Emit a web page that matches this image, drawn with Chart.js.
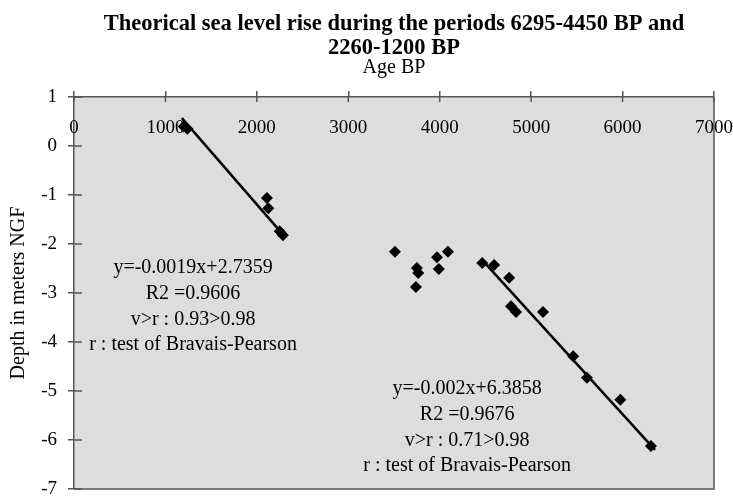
<!DOCTYPE html>
<html>
<head>
<meta charset="utf-8">
<script src="https://cdn.jsdelivr.net/npm/chart.js@4.4.1/dist/chart.umd.min.js"></script>
<style>
  html, body { margin: 0; padding: 0; background: #fff; }
</style>
</head>
<body>
<canvas id="seaLevel" width="733" height="496"></canvas>
<script>
// points (age BP, depth in m NGF)
var recentAge = [1200, 1240, 2110, 2125, 2250, 2285];
var recentDepth = [0.40, 0.35, -1.06, -1.27, -1.74, -1.82];

var middleAge = [3510, 3750, 3765, 3740, 3970, 3990, 4090];
var middleDepth = [-2.16, -2.49, -2.59, -2.88, -2.27, -2.51, -2.16];

var olderAge = [4465, 4595, 4760, 4780, 4835, 5130, 5460, 5610, 5975, 6310];
var olderDepth = [-2.39, -2.43, -2.69, -3.27, -3.39, -3.39, -4.29, -4.73, -5.18, -6.12];

// trend lines as drawn on the figure
var trendRecentAge = [1180, 2310];
var trendRecentDepth = [0.57, -1.86];
var trendOlderAge = [4480, 6355];
var trendOlderDepth = [-2.36, -6.20];

var xTicks = [0, 1000, 2000, 3000, 4000, 5000, 6000, 7000];
var yTicks = [1, 0, -1, -2, -3, -4, -5, -6, -7];

var recentFitText = ['y=-0.0019x+2.7359', 'R2 =0.9606', 'v>r : 0.93>0.98', 'r : test of Bravais-Pearson'];
var olderFitText = ['y=-0.002x+6.3858', 'R2 =0.9676', 'v>r : 0.71>0.98', 'r : test of Bravais-Pearson'];

var serif = "'Liberation Serif', 'Times New Roman', serif";

function toPoints(xs, ys) {
    return xs.map(function (x, i) { return { x: x, y: ys[i] }; });
}

// grey plot area, frame, inner half of the tick marks, x labels and the fit notes
var plotDecor = {
    id: 'plotDecor',
    beforeDraw: function (chart) {
        var a = chart.chartArea, ctx = chart.ctx;
        ctx.save();
        ctx.fillStyle = '#dddddd';
        ctx.fillRect(a.left, a.top, a.right - a.left, a.bottom - a.top);
        ctx.restore();
    },
    beforeDatasetsDraw: function (chart) {
        // x tick labels sit inside the plot, under the axis line
        var a = chart.chartArea, ctx = chart.ctx, xs = chart.scales.x;
        ctx.save();
        ctx.fillStyle = '#000';
        ctx.font = '19px ' + serif;
        ctx.textAlign = 'center';
        ctx.textBaseline = 'middle';
        xTicks.forEach(function (v) {
            ctx.fillText(String(v), xs.getPixelForValue(v), a.top + 31);
        });
        ctx.restore();
    },
    afterDraw: function (chart) {
        var a = chart.chartArea, ctx = chart.ctx;
        var xs = chart.scales.x, ys = chart.scales.y;
        ctx.save();
        ctx.strokeStyle = '#555';
        ctx.lineWidth = 1.5;
        ctx.beginPath();
        ctx.moveTo(a.right, a.top);
        ctx.lineTo(a.right, a.bottom);
        ctx.lineTo(a.left, a.bottom);
        ctx.stroke();
        ctx.beginPath();
        xTicks.forEach(function (v) {
            var px = xs.getPixelForValue(v);
            ctx.moveTo(px, a.top);
            ctx.lineTo(px, a.top + 5);
        });
        yTicks.forEach(function (v) {
            var py = ys.getPixelForValue(v);
            ctx.moveTo(a.left, py);
            ctx.lineTo(a.left + 8, py);
        });
        ctx.stroke();

        ctx.fillStyle = '#000';
        ctx.font = '20px ' + serif;
        ctx.textAlign = 'center';
        ctx.textBaseline = 'middle';
        var notes = chart.options.plugins.plotDecor.notes;
        notes.forEach(function (n) {
            var cx = xs.getPixelForValue(n.x);
            var cy = ys.getPixelForValue(n.y);
            n.lines.forEach(function (t, i) {
                ctx.fillText(t, cx, cy + i * 25.7);
            });
        });
        ctx.restore();
    }
};

var ctx = document.getElementById('seaLevel').getContext('2d');

var chart = new Chart(ctx, {
    type: 'scatter',
    data: {
        datasets: [
            {
                label: '2260-1200 BP',
                data: toPoints(recentAge, recentDepth),
                pointStyle: 'rectRot',
                pointRadius: 6,
                backgroundColor: '#000',
                borderColor: '#000',
                borderWidth: 0
            },
            {
                label: 'other',
                data: toPoints(middleAge, middleDepth),
                pointStyle: 'rectRot',
                pointRadius: 6,
                backgroundColor: '#000',
                borderColor: '#000',
                borderWidth: 0
            },
            {
                label: '6295-4450 BP',
                data: toPoints(olderAge, olderDepth),
                pointStyle: 'rectRot',
                pointRadius: 6,
                backgroundColor: '#000',
                borderColor: '#000',
                borderWidth: 0
            },
            {
                label: 'trend recent',
                data: toPoints(trendRecentAge, trendRecentDepth),
                showLine: true,
                pointRadius: 0,
                borderColor: '#000',
                borderWidth: 2.5
            },
            {
                label: 'trend older',
                data: toPoints(trendOlderAge, trendOlderDepth),
                showLine: true,
                pointRadius: 0,
                borderColor: '#000',
                borderWidth: 2.5
            }
        ]
    },
    options: {
        responsive: false,
        animation: false,
        events: [],
        layout: { padding: { left: 0, right: 19, top: 0, bottom: 7 } },
        plugins: {
            legend: { display: false },
            tooltip: { enabled: false },
            title: {
                display: true,
                fullSize: false,
                text: ['Theorical sea level rise during the periods 6295-4450 BP and', '2260-1200 BP'],
                color: '#000',
                font: { family: serif, size: 22.5, weight: 'bold', lineHeight: '24px' },
                padding: { top: 12, bottom: 0 }
            },
            plotDecor: {
                notes: [
                    { x: 1302, y: -2.49, lines: recentFitText },
                    { x: 4300, y: -4.96, lines: olderFitText }
                ]
            }
        },
        scales: {
            x: {
                type: 'linear',
                position: 'top',
                min: 0,
                max: 7000,
                afterBuildTicks: function (s) { s.ticks = xTicks.map(function (v) { return { value: v }; }); },
                afterFit: function (s) { s.height = 37; s.paddingLeft = 0; s.paddingRight = 0; },
                ticks: { display: false },
                grid: { drawOnChartArea: false, tickLength: 6, color: '#555', lineWidth: 1.5 },
                border: { color: '#555', width: 1.5 },
                title: {
                    display: true,
                    text: 'Age BP',
                    color: '#000',
                    padding: { top: -2, bottom: 0 },
                    font: { family: serif, size: 20, lineHeight: 1 }
                }
            },
            y: {
                type: 'linear',
                min: -7,
                max: 1,
                afterBuildTicks: function (s) { s.ticks = yTicks.map(function (v) { return { value: v }; }); },
                afterFit: function (s) { s.width = 74; s.paddingTop = 0; s.paddingBottom = 0; },
                ticks: {
                    color: '#000',
                    padding: 11,
                    font: { family: serif, size: 19, lineHeight: 1 }
                },
                grid: { drawOnChartArea: false, tickLength: 6, color: '#555', lineWidth: 1.5 },
                border: { color: '#555', width: 1.5 },
                title: {
                    display: true,
                    text: 'Depth in meters NGF',
                    color: '#000',
                    padding: { top: 9, bottom: 0 },
                    font: { family: serif, size: 20, lineHeight: 1 }
                }
            }
        }
    },
    plugins: [plotDecor]
});
</script>
</body>
</html>
